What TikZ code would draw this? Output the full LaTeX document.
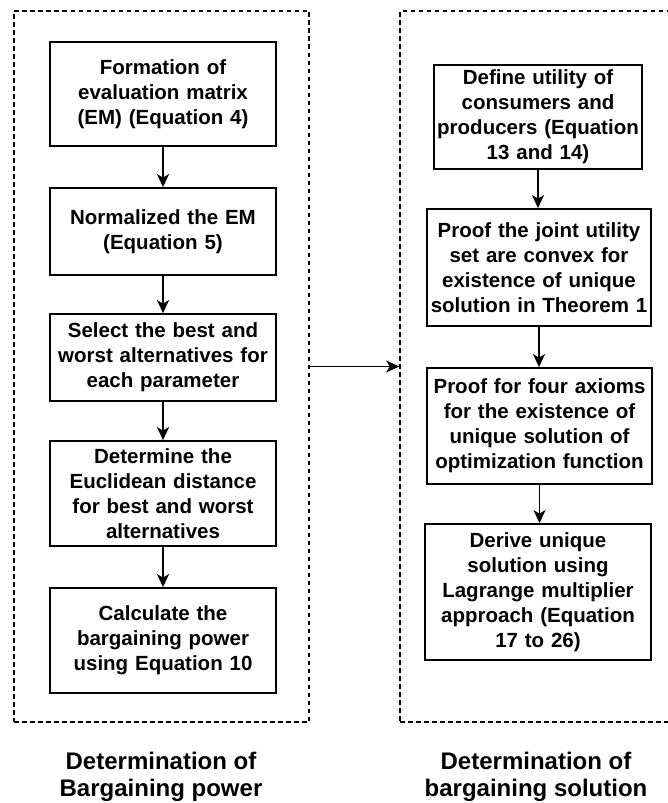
\documentclass[tikz,border=0pt]{standalone}
\usepackage{fontspec}
\setmainfont{Liberation Sans}
\usetikzlibrary{arrows.meta}

\tikzset{
  stepbox/.style={draw, line width=1.8pt, align=center, inner xsep=2pt, inner ysep=0pt,
    font=\bfseries\fontsize{20.5}{25}\selectfont},
  groupbox/.style={draw, line width=1.6pt, dash pattern=on 4.5pt off 3.5pt, inner sep=0pt},
  flow/.style={line width=1.7pt, -{Stealth[length=13pt,width=12pt,inset=3.5pt]}},
  caption/.style={align=center, font=\bfseries\fontsize{24}{27}\selectfont}
}

\begin{document}
\begin{tikzpicture}[x=1pt,y=-1pt]
        \useasboundingbox (0,0) rectangle (667,803);
        % Draw the two dashed groups
        \node[groupbox, minimum width=295, minimum height=711] (leftgrp) at (161.5,366.5) {};
        \node[groupbox, minimum width=280, minimum height=711] (rightgrp) at (540,366.5) {};
        % Left column
        \node[stepbox, text width=222, minimum height=104] (form) at (163,94) {Formation of\\evaluation matrix\\(EM) (Equation 4)};
        \node[stepbox, text width=222, minimum height=87] (norm) at (163,231.5) {Normalized the EM\\(Equation 5)};
        \node[stepbox, text width=222, minimum height=87] (select) at (163,357.5) {Select the best and\\worst alternatives for\\each parameter};
        \node[stepbox, text width=222, minimum height=105] (dist) at (163,493.5) {Determine the\\Euclidean distance\\for best and worst\\alternatives};
        \node[stepbox, text width=222, minimum height=105] (power) at (163,640.5) {Calculate the\\bargaining power\\using Equation 10};
        % Right column
        \node[stepbox, text width=204, minimum height=104] (util) at (538,117) {Define utility of\\consumers and\\producers (Equation\\13 and 14)};
        \node[stepbox, text width=220, minimum height=117] (convex) at (539,267.5) {Proof the joint utility\\set are convex for\\existence of unique\\solution in Theorem 1};
        \node[stepbox, text width=221, minimum height=116] (axioms) at (539.5,426) {Proof for four axioms\\for the existence of\\unique solution of\\optimization function};
        \node[stepbox, text width=222, minimum height=136] (lagr) at (538,592) {Derive unique\\solution using\\Lagrange multiplier\\approach (Equation\\17 to 26)};
        % Arrows
        \draw[flow] (form) -- (norm);
        \draw[flow] (norm) -- (select);
        \draw[flow] (select) -- (dist);
        \draw[flow] (dist) -- (power);
        \draw[flow] (util.south) -- (util.south |- convex.north);
        \draw[flow] (convex.south) -- (convex.south |- axioms.north);
        \draw[flow] (axioms.south) -- (axioms.south |- lagr.north);
        \draw[flow] (leftgrp.east) -- (rightgrp.west);
        % Captions
        \node[caption] (leftcap) at (161,776.5) {Determination of\\Bargaining power};
        \node[caption] (rightcap) at (536,776.5) {Determination of\\bargaining solution};
    \end{tikzpicture}
\end{document}
